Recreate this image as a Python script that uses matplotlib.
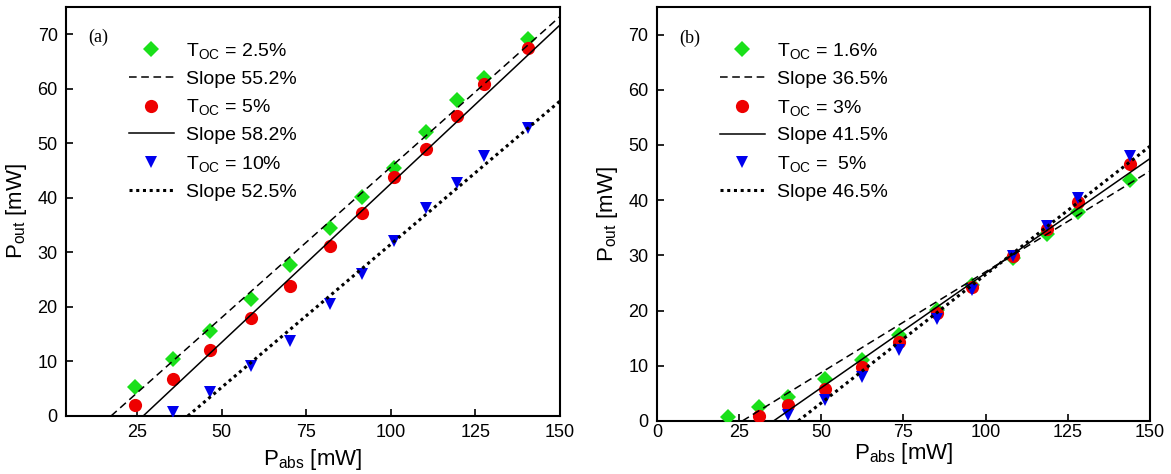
import numpy as np
import matplotlib
matplotlib.use("Agg")
import matplotlib.pyplot as plt

plt.rcParams['font.family'] = ['Liberation Sans', 'DejaVu Sans']
plt.rcParams['mathtext.fontset'] = 'custom'
plt.rcParams['mathtext.rm'] = 'Liberation Sans'
plt.rcParams['mathtext.it'] = 'Liberation Sans:italic'

# ---- panel (a) data ----
a_x_g = [24.5, 35.7, 46.6, 58.7, 70.3, 82.0, 91.6, 101.0, 110.5, 119.5, 127.5, 140.5]
a_y_g = [5.4, 10.5, 15.6, 21.5, 27.7, 34.5, 40.2, 45.5, 52.1, 58.0, 62.0, 69.1]
a_x_r = [24.5, 35.7, 46.6, 58.7, 70.3, 82.0, 91.6, 101.0, 110.5, 119.5, 127.5, 140.5]
a_y_r = [2.0, 6.7, 12.1, 18.0, 23.9, 31.2, 37.2, 43.9, 49.0, 55.0, 60.8, 67.4]
a_x_b = [35.7, 46.6, 58.7, 70.3, 82.0, 91.6, 101.0, 110.5, 119.5, 127.5, 140.5]
a_y_b = [0.8, 4.4, 9.2, 13.7, 20.5, 26.0, 32.0, 38.2, 42.8, 47.6, 52.9]
a_slopes = [0.552, 0.582, 0.525]
a_thresh = [17.3, 26.8, 40.0]
a_labels = ['T$_{\\mathrm{OC}}$ = 2.5%', 'T$_{\\mathrm{OC}}$ = 5%', 'T$_{\\mathrm{OC}}$ = 10%']
a_slope_labels = ['Slope 55.2%', 'Slope 58.2%', 'Slope 52.5%']

# ---- panel (b) data ----
b_x_g = [21.6, 31.0, 39.9, 51.1, 62.4, 73.6, 85.1, 95.8, 108.3, 118.6, 128.0, 143.9]
b_y_g = [0.7, 2.5, 4.4, 7.6, 11.1, 15.6, 20.1, 24.7, 29.6, 33.8, 37.9, 43.7]
b_x_r = [31.0, 39.9, 51.1, 62.4, 73.6, 85.1, 95.8, 108.3, 118.6, 128.0, 143.9]
b_y_r = [0.8, 2.8, 5.8, 9.7, 14.3, 19.5, 24.3, 29.8, 34.7, 39.6, 46.5]
b_x_b = [39.9, 51.1, 62.4, 73.6, 85.1, 95.8, 108.3, 118.6, 128.0, 143.9]
b_y_b = [1.1, 3.8, 7.9, 12.9, 18.5, 23.8, 29.8, 35.3, 40.4, 48.0]
b_slopes = [0.365, 0.415, 0.465]
b_thresh = [26.0, 35.5, 43.0]
b_labels = ['T$_{\\mathrm{OC}}$ = 1.6%', 'T$_{\\mathrm{OC}}$ = 3%', 'T$_{\\mathrm{OC}}$ =  5%']
b_slope_labels = ['Slope 36.5%', 'Slope 41.5%', 'Slope 46.5%']

colors = ['#1ae01a', '#ee0000', '#0000ee']
markers = ['D', 'o', 'v']
msizes = [8, 9.5, 9]
lstyles = [(0, (5, 3)), '-', (0, (1, 1.2))]


def Plot_Panel(ax, xs, ys, slopes, thresh, labels, slope_labels, xlim, xticks, tag,
               tpad=6, lpad=4):
    for i in range(3):
        ax.plot(xs[i], ys[i], linestyle='none', marker=markers[i], color=colors[i],
                markersize=msizes[i], markeredgewidth=0, label=labels[i], zorder=3)
        xl = np.array([thresh[i], xlim[1]])
        lw = 2.2 if i == 2 else 1.1
        ax.plot(xl, slopes[i] * (xl - thresh[i]), color='black', linestyle=lstyles[i],
                linewidth=lw, label=slope_labels[i], zorder=4)
    ax.set_xlim(xlim)
    ax.set_ylim(0, 75)
    ax.set_xticks(xticks)
    ax.set_yticks(range(0, 71, 10))
    ax.tick_params(direction='in', length=5, width=1.2, labelsize=13, pad=6)
    ax.tick_params(axis='x', pad=tpad)
    for s in ax.spines.values():
        s.set_linewidth(1.5)
    ax.set_xlabel('P$_{\\mathrm{abs}}$ [mW]', fontsize=16, labelpad=lpad)
    ax.set_ylabel('P$_{\\mathrm{out}}$ [mW]', fontsize=16, labelpad=6)
    ax.text(0.045, 0.925, tag, transform=ax.transAxes, fontsize=13,
            family='Liberation Serif', va='center')
    ax.legend(loc='upper left', bbox_to_anchor=(0.1, 0.95), frameon=False,
              fontsize=14, handlelength=2.3, labelspacing=0.48, handletextpad=0.65,
              borderaxespad=0.3)


fig = plt.figure(figsize=(11.71, 4.74), dpi=100)
ax1 = fig.add_axes([0.0564, 0.1224, 0.4218, 0.8628])
ax2 = fig.add_axes([0.561, 0.112, 0.421, 0.8734])

Plot_Panel(ax1, [a_x_g, a_x_r, a_x_b], [a_y_g, a_y_r, a_y_b], a_slopes, a_thresh,
           a_labels, a_slope_labels, (4, 150), [25, 50, 75, 100, 125, 150], '(a)')
Plot_Panel(ax2, [b_x_g, b_x_r, b_x_b], [b_y_g, b_y_r, b_y_b], b_slopes, b_thresh,
           b_labels, b_slope_labels, (0, 150), [0, 25, 50, 75, 100, 125, 150], '(b)',
           tpad=2, lpad=0)

fig.savefig('out.png', dpi=100)
